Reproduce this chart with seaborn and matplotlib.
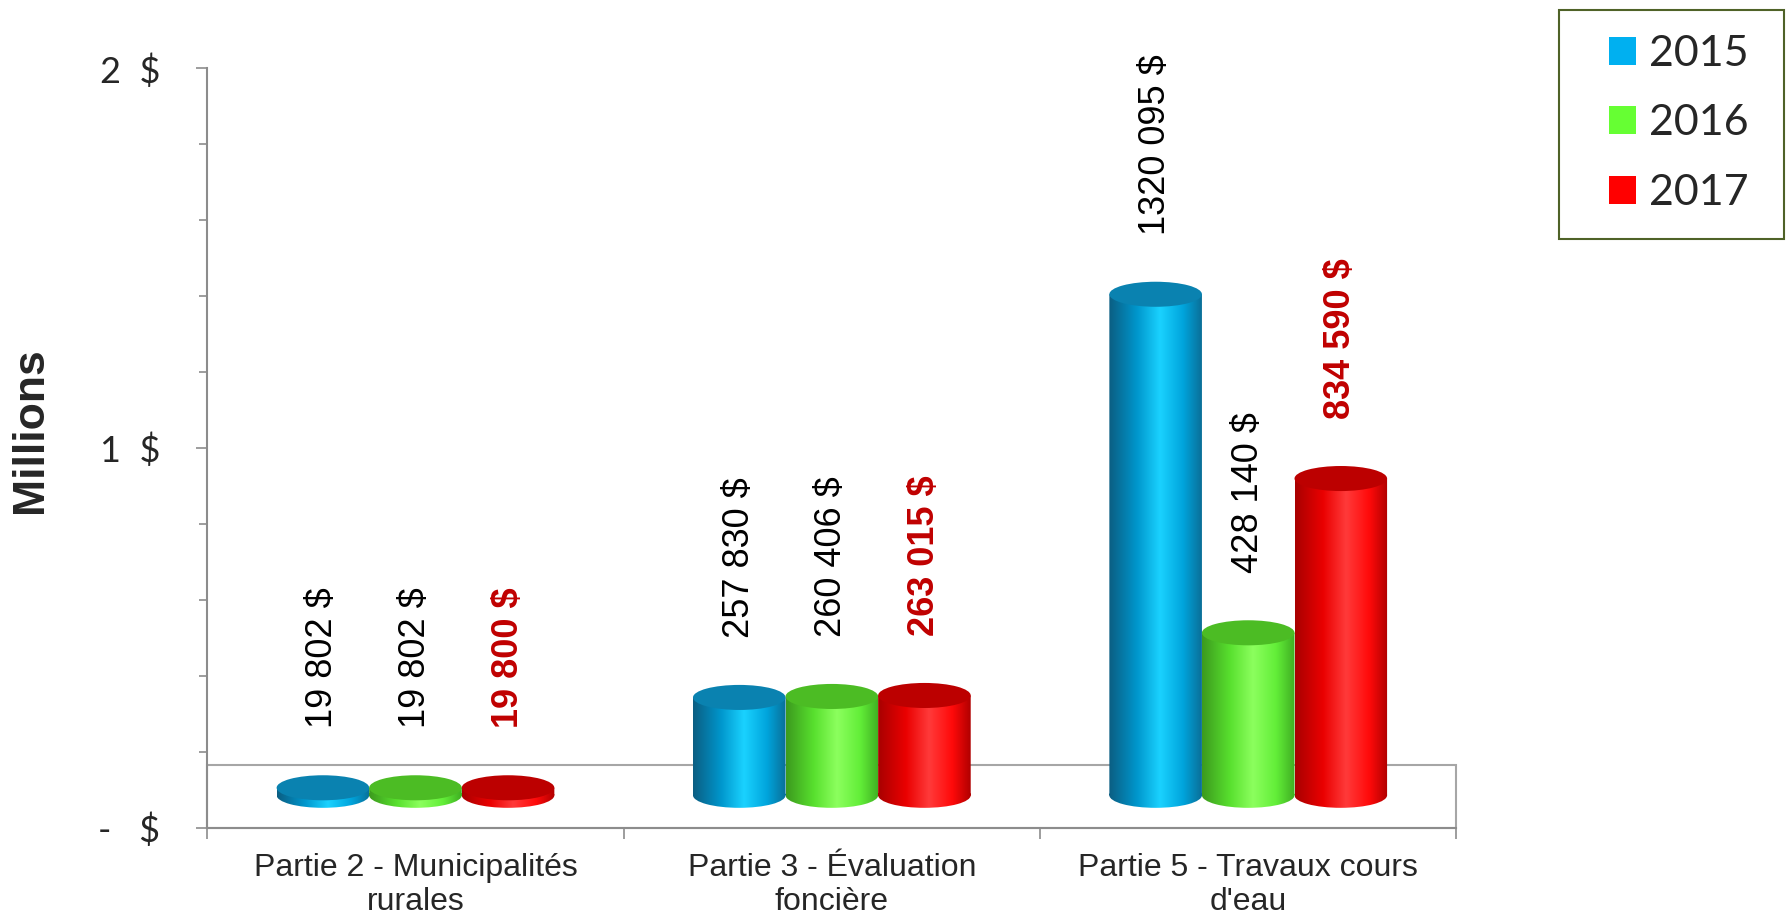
import numpy as np
import pandas as pd
import matplotlib
matplotlib.use("Agg")
import matplotlib.pyplot as plt
import seaborn as sns
from matplotlib.colors import LinearSegmentedColormap
from matplotlib.patches import Ellipse, Rectangle, Patch, PathPatch
from matplotlib.path import Path
from matplotlib.ticker import MultipleLocator

# ====== Data ======
categories = ["Partie 2 - Municipalités\nrurales",
              "Partie 3 - Évaluation\nfoncière",
              "Partie 5 - Travaux cours\nd'eau"]
years = ["2015", "2016", "2017"]
values_2015 = [19802, 257830, 1320095]
values_2016 = [19802, 260406, 428140]
values_2017 = [19800, 263015, 834590]
labels_2015 = ["19 802 $", "257 830 $", "1320 095 $"]
labels_2016 = ["19 802 $", "260 406 $", "428 140 $"]
labels_2017 = ["19 800 $", "263 015 $", "834 590 $"]
ytick_labels = ["-   $", "1  $", "2  $"]

# ====== Style ======
legend_colors = ["#00b0f0", "#66ff33", "#ff0000"]
shade_colors = [
    ["#0b5e82", "#0096cc", "#1ad2ff", "#00a4dc", "#0a6f98"],
    ["#3c9a1e", "#58e02e", "#8cff5e", "#62ee38", "#3fae22"],
    ["#a80000", "#ea0000", "#ff3a3a", "#ff0a0a", "#b00000"],
]
top_colors = ["#0a82b0", "#4cbc24", "#bc0000"]
BASE = 0.085     # 3D floor offset (millions)
ELL_H = 0.066    # cylinder cap height (millions)
FLOOR_H = 0.166
AXIS_GREY = "#8c8c8c"

sns.set_style("white")
plt.rcParams["font.family"] = ["Liberation Sans", "DejaVu Sans"]

df = pd.DataFrame({
    "categorie": categories * 3,
    "annee": np.repeat(years, 3),
    "millions": np.array(values_2015 + values_2016 + values_2017) / 1e6,
})
all_labels = [labels_2015, labels_2016, labels_2017]

fig = plt.figure(figsize=(17.87, 9.19), dpi=100)
ax = fig.add_axes([0.116, 0.0995, 0.699, 0.826])

sns.barplot(data=df, x="categorie", y="millions", hue="annee",
            palette=legend_colors, width=0.667, saturation=1,
            legend=False, ax=ax)

grad = np.linspace(0, 1, 256).reshape(1, -1)

for i, cont in enumerate(ax.containers):
    cmap = LinearSegmentedColormap.from_list(
        f"cyl{i}", list(zip([0, 0.3, 0.55, 0.8, 1], shade_colors[i])))
    is_red = i == 2
    for j, p in enumerate(cont.patches):
        x0, w, h = p.get_x(), p.get_width(), p.get_height()
        cx = x0 + w / 2
        p.set_visible(False)

        # body of the cylinder: rectangle + bottom ellipse, filled with gradient
        rect = Path([(x0, BASE), (x0 + w, BASE), (x0 + w, BASE + h),
                     (x0, BASE + h), (x0, BASE)], closed=True)
        bot = Ellipse((cx, BASE), w, ELL_H)
        bot_path = bot.get_patch_transform().transform_path(bot.get_path())
        clip = PathPatch(Path.make_compound_path(rect, bot_path),
                         transform=ax.transData, fc="none", ec="none")
        im = ax.imshow(grad, extent=[x0, x0 + w, BASE - ELL_H / 2, BASE + h],
                       aspect="auto", cmap=cmap, interpolation="bicubic",
                       zorder=2)
        im.set_clip_path(clip)

        ax.add_patch(Ellipse((cx, BASE + h), w, ELL_H, fc=top_colors[i],
                             ec="none", zorder=3))

        ax.annotate(all_labels[i][j], xy=(cx, BASE + h + ELL_H / 2),
                    xytext=(0, 34), textcoords="offset points",
                    rotation=90, ha="center", va="bottom", fontsize=26,
                    color="#c00000" if is_red else "black",
                    fontweight="bold" if is_red else "normal")

# floor of the 3D chart
ax.add_patch(Rectangle((-0.5, 0), 3, FLOOR_H, fill=False, ec="#a6a6a6",
                       lw=1.5, zorder=1, clip_on=False))

ax.set_xlim(-0.5, 2.5)
ax.set_ylim(0, 2.0)

# y axis
ax.set_yticks([0, 1, 2])
ax.set_yticklabels(ytick_labels, fontsize=26, family=["Lato", "DejaVu Sans"])
ax.yaxis.set_minor_locator(MultipleLocator(0.2))
ax.tick_params(axis="y", which="major", direction="out", length=8, width=1.2,
               color=AXIS_GREY, pad=26, left=True)
ax.tick_params(axis="y", which="minor", direction="out", length=6, width=1.2,
               color=AXIS_GREY, left=True)

# x axis
ax.set_xticks([0, 1, 2])
ax.set_xticklabels(categories, fontsize=23, linespacing=1.2)
ax.set_xticks([-0.5, 0.5, 1.5, 2.5], minor=True)
ax.tick_params(axis="x", which="major", length=0, pad=18)
ax.tick_params(axis="x", which="minor", direction="out", length=8, width=1.2,
               color=AXIS_GREY, bottom=True)
ax.set_xlabel("")
ax.set_ylabel("")

fig.text(31 / 1787, 1 - 430 / 919, "Millions", rotation=90, ha="center",
         va="center", fontsize=32, fontweight="bold")

sns.despine(ax=ax, top=True, right=True)
for side in ["left", "bottom"]:
    ax.spines[side].set_color(AXIS_GREY)
    ax.spines[side].set_linewidth(1.5)

# legend with its own border box
handles = [Patch(fc=c, ec="none") for c in legend_colors]
fig.legend(handles=handles, labels=years, loc="upper left",
           bbox_to_anchor=(1609 / 1787, 1 - 35 / 919), frameon=False,
           prop={"family": ["Lato", "DejaVu Sans"], "size": 31},
           handlelength=0.63, handleheight=0.63, handletextpad=0.3,
           labelspacing=0.73, borderpad=0, borderaxespad=0)
fig.add_artist(Rectangle((1559 / 1787, 1 - 239 / 919), 225 / 1787, 229 / 919,
                         transform=fig.transFigure, fill=False,
                         ec="#4f6228", lw=1.5))

fig.savefig("out.png", dpi=100)
